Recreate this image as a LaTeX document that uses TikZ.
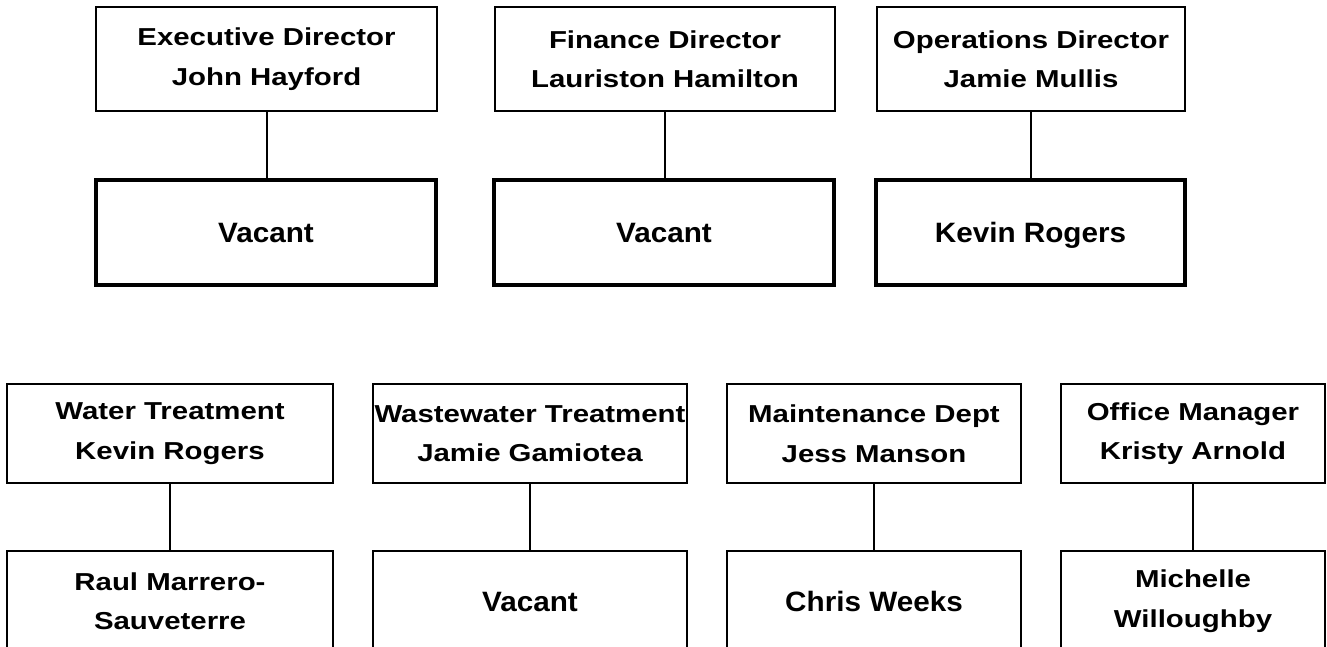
\documentclass[tikz,border=0pt]{standalone}
\usepackage{fontspec}
\setmainfont{Liberation Sans}
\newfontfamily\orgtwo{Liberation Sans}[FakeStretch=1.2]
\newfontfamily\orgone{Liberation Sans}[FakeStretch=1.06]
\begin{document}
\begin{tikzpicture}[x=1pt,y=-1pt,
  box/.style={draw=black,line width=1.8pt,rectangle,inner sep=0pt,align=center,
    font=\orgtwo\bfseries\fontsize{24.5}{39.5}\selectfont},
  single/.style={font=\orgone\bfseries\fontsize{28}{34}\selectfont,text height=20pt,text depth=0pt},
  subbox/.style={box,single,line width=4pt},
  lowbox/.style={box},
  conn/.style={draw=black,line width=2pt}]
\useasboundingbox (0,0) rectangle (1327,646);
\clip (0,0) rectangle (1327,646);
\fill[white] (0,0) rectangle (1327,646);

% upper group: directors and their deputies
\node[box,minimum width=341pt,minimum height=104pt] (exec) at (266.5,59) {Executive Director\\John Hayford};
\node[subbox,minimum width=340pt,minimum height=105pt] (execSub) at (266,232.5) {Vacant};
\node[box,minimum width=340pt,minimum height=104pt] (fin) at (665,59) {Finance Director\\Lauriston Hamilton};
\node[subbox,minimum width=340pt,minimum height=105pt] (finSub) at (664,232.5) {Vacant};
\node[box,minimum width=308pt,minimum height=104pt] (ops) at (1031,59) {Operations Director\\Jamie Mullis};
\node[subbox,minimum width=309pt,minimum height=105pt] (opsSub) at (1030.5,232.5) {Kevin Rogers};

\draw[conn] (exec.south) -- (exec.south |- execSub.north);
\draw[conn] (fin.south) -- (fin.south |- finSub.north);
\draw[conn] (ops.south) -- (ops.south |- opsSub.north);

% lower group: departments and their staff
\node[box,minimum width=326pt,minimum height=99pt] (water) at (170,433.5) {Water Treatment\\Kevin Rogers};
\node[lowbox,minimum width=326pt,minimum height=100pt] (waterSub) at (170,601) {Raul Marrero-\\Sauveterre};
\node[box,minimum width=314pt,minimum height=99pt] (waste) at (530,433.5) {Wastewater Treatment\\Jamie Gamiotea};
\node[lowbox,single,minimum width=314pt,minimum height=100pt] (wasteSub) at (530,601) {Vacant};
\node[box,minimum width=294pt,minimum height=99pt] (maint) at (874,433.5) {Maintenance Dept\\Jess Manson};
\node[lowbox,single,minimum width=294pt,minimum height=100pt] (maintSub) at (874,601) {Chris Weeks};
\node[box,minimum width=264pt,minimum height=99pt] (office) at (1193,433.5) {Office Manager\\Kristy Arnold};
\node[lowbox,minimum width=264pt,minimum height=100pt] (officeSub) at (1193,601) {Michelle\\Willoughby};

\draw[conn] (water.south) -- (waterSub.north);
\draw[conn] (waste.south) -- (wasteSub.north);
\draw[conn] (maint.south) -- (maintSub.north);
\draw[conn] (office.south) -- (officeSub.north);
\end{tikzpicture}
\end{document}
